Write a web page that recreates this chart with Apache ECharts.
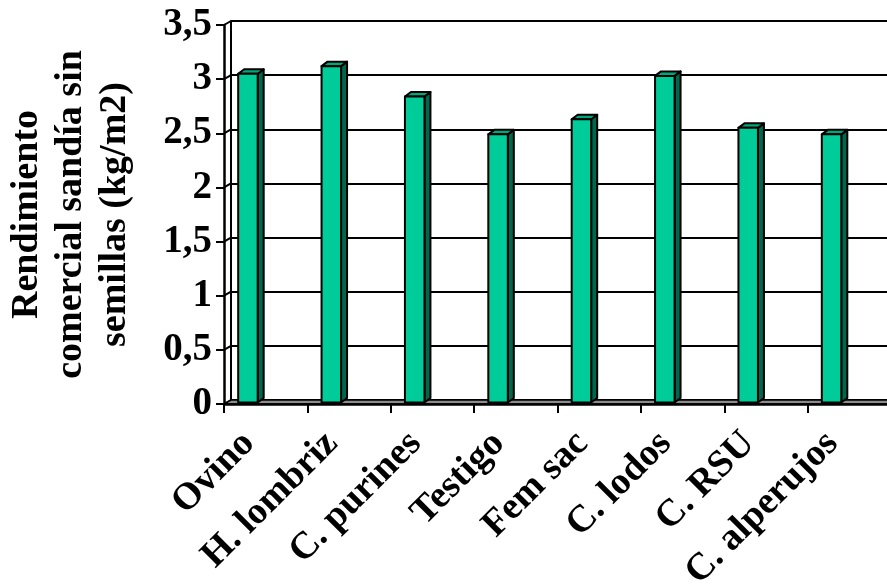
<!DOCTYPE html>
<html>
<head>
<meta charset="utf-8">
<script src="https://cdn.jsdelivr.net/npm/echarts@6/dist/echarts.min.js"></script>
<style>
  html, body { margin: 0; padding: 0; background: #ffffff; }
  #chart { width: 887px; height: 586px; }
</style>
</head>
<body>
<div id="chart"></div>
<script>
// Commercial yield of seedless watermelon per treatment (kg/m2)
const categories = ['Ovino', 'H. lombriz', 'C. purines', 'Testigo', 'Fem sac', 'C. lodos', 'C. RSU', 'C. alperujos'];
const yieldValues = [3.05, 3.12, 2.84, 2.49, 2.63, 3.03, 2.55, 2.49];
const yTicks = [0, 0.5, 1, 1.5, 2, 2.5, 3, 3.5];
const yTitle = 'Rendimiento\ncomercial sandía sin\nsemillas (kg/m2)';

const FONT = '"Liberation Serif", "Times New Roman", serif';
const DX = 7, DY = 4;          // depth of the walls
const BDX = 6, BDY = 4.5;      // depth of each column

const chart = echarts.init(document.getElementById('chart'), null, { renderer: 'canvas' });

const fmt = v => String(v).replace('.', ',');

chart.setOption({
  animation: false,
  backgroundColor: '#ffffff',
  grid: [
    { left: 224, top: 25, width: 667, height: 379, containLabel: false, outerBoundsMode: 'none' },            // front plane
    { left: 224 + DX, top: 25 - DY, width: 667, height: 379, containLabel: false, outerBoundsMode: 'none' }   // back wall
  ],
  xAxis: [
    {
      type: 'category', gridIndex: 0, data: categories,
      axisLine: { show: true, lineStyle: { color: '#000', width: 2.5 } },
      axisTick: { show: true, alignWithLabel: false, length: 9, lineStyle: { color: '#000', width: 2 } },
      axisLabel: {
        rotate: 45, margin: 17, interval: 0, padding: [0, 24, 0, 0],
        fontFamily: FONT, fontWeight: 'bold', fontSize: 38, color: '#000'
      },
      z: 10
    },
    {
      type: 'category', gridIndex: 1, data: categories,
      axisLine: { show: true, lineStyle: { color: '#000', width: 2 } },
      axisTick: { show: false }, axisLabel: { show: false }
    }
  ],
  yAxis: [
    {
      type: 'value', gridIndex: 0, min: 0, max: 3.5, interval: 0.5,
      axisLine: { show: true, lineStyle: { color: '#000', width: 2.5 } },
      axisTick: { show: true, length: 8, lineStyle: { color: '#000', width: 2 } },
      axisLabel: {
        margin: 12, fontFamily: FONT, fontWeight: 'bold', fontSize: 39, color: '#000',
        formatter: v => fmt(v)
      },
      splitLine: { show: false },
      name: yTitle, nameLocation: 'middle', nameRotate: 90, nameGap: 87,
      nameTextStyle: { fontFamily: FONT, fontWeight: 'bold', fontSize: 38, lineHeight: 44, color: '#000', align: 'center' },
      z: 10
    },
    {
      type: 'value', gridIndex: 1, min: 0, max: 3.5, interval: 0.5,
      axisLine: { show: true, lineStyle: { color: '#000', width: 2 } },
      axisTick: { show: false }, axisLabel: { show: false },
      splitLine: { show: true, lineStyle: { color: '#000', width: 2 } }
    }
  ],
  series: [
    {
      // side wall diagonals and floor band
      type: 'custom', xAxisIndex: 0, yAxisIndex: 0, z: 1,
      data: [0],
      renderItem: function (params, api) {
        const cs = params.coordSys;
        const x0 = cs.x, right = cs.x + cs.width + 20;
        const children = [];
        yTicks.forEach(function (t) {
          const y = api.coord([0, t])[1];
          children.push({
            type: 'line',
            shape: { x1: x0, y1: y, x2: x0 + DX, y2: y - DY },
            style: { stroke: '#000', lineWidth: 2 }
          });
        });
        const yb = api.coord([0, 0])[1];
        children.push({
          type: 'polygon',
          shape: { points: [[x0, yb], [x0 + DX, yb - DY], [right, yb - DY], [right, yb]] },
          style: { fill: '#8c8c8c', stroke: '#000', lineWidth: 1.5 }
        });
        return { type: 'group', children: children };
      }
    },
    {
      // 3D columns
      type: 'custom', xAxisIndex: 0, yAxisIndex: 0, z: 5,
      data: yieldValues.map((v, i) => [i, v]),
      encode: { x: 0, y: 1 },
      renderItem: function (params, api) {
        const i = api.value(0), v = api.value(1);
        const top = api.coord([i, v]);
        const base = api.coord([i, 0]);
        const w = 19.5;
        const x0 = top[0] - 27.5, x1 = x0 + w;
        const yt = top[1], yb = base[1] - 1.5;
        const edge = { stroke: '#000', lineWidth: 2, lineJoin: 'round' };
        return {
          type: 'group',
          children: [
            { type: 'polygon', shape: { points: [[x1, yt], [x1 + BDX, yt - BDY], [x1 + BDX, yb - BDY], [x1, yb]] },
              style: Object.assign({ fill: '#00664c' }, edge) },
            { type: 'polygon', shape: { points: [[x0, yt], [x0 + BDX, yt - BDY], [x1 + BDX, yt - BDY], [x1, yt]] },
              style: Object.assign({ fill: '#00a67c' }, edge) },
            { type: 'rect', shape: { x: x0, y: yt, width: w, height: yb - yt },
              style: Object.assign({ fill: '#00cc99' }, edge) }
          ]
        };
      }
    }
  ]
});
</script>
</body>
</html>
